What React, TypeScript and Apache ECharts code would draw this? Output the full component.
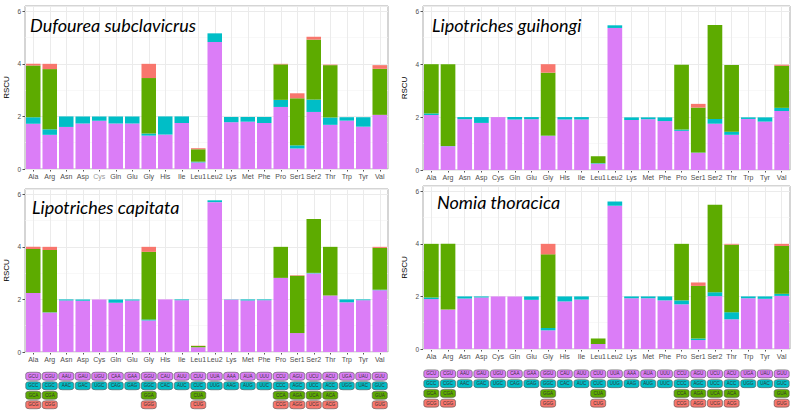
import React, { useEffect, useRef } from 'react';
import * as echarts from 'echarts';

const aminoAcids = ['Ala', 'Arg', 'Asn', 'Asp', 'Cys', 'Gln', 'Glu', 'Gly', 'His', 'Ile', 'Leu1', 'Leu2', 'Lys', 'Met', 'Phe', 'Pro', 'Ser1', 'Ser2', 'Thr', 'Trp', 'Tyr', 'Val'];

const codons = [
  ['GCU', 'GCC', 'GCA', 'GCG'], ['CGU', 'CGC', 'CGA', 'CGG'], ['AAU', 'AAC'], ['GAU', 'GAC'],
  ['UGU', 'UGC'], ['CAA', 'CAG'], ['GAA', 'GAG'], ['GGU', 'GGC', 'GGA', 'GGG'],
  ['CAU', 'CAC'], ['AUU', 'AUC'], ['CUU', 'CUC', 'CUA', 'CUG'], ['UUA', 'UUG'],
  ['AAA', 'AAG'], ['AUA', 'AUG'], ['UUU', 'UUC'], ['CCU', 'CCC', 'CCA', 'CCG'],
  ['AGU', 'AGC', 'AGA', 'AGG'], ['UCU', 'UCC', 'UCA', 'UCG'], ['ACU', 'ACC', 'ACA', 'ACG'],
  ['UGA', 'UGG'], ['UAU', 'UAC'], ['GUU', 'GUC', 'GUA', 'GUG'],
];

const speciesNames = ['Dufourea subclavicrus', 'Lipotriches guihongi', 'Lipotriches capitata', 'Nomia thoracica'];

// RSCU of codon 1..4 (stack order bottom -> top), per amino acid
const dufoureaC1 = [1.72, 1.30, 1.60, 1.73, 1.84, 1.73, 1.73, 1.27, 1.31, 1.75, 0.25, 4.83, 1.78, 1.80, 1.75, 2.36, 0.78, 2.17, 1.68, 1.84, 1.61, 2.06];
const dufoureaC2 = [0.25, 0.21, 0.40, 0.27, 0.16, 0.27, 0.27, 0.08, 0.69, 0.25, 0.03, 0.33, 0.20, 0.18, 0.23, 0.27, 0.12, 0.47, 0.28, 0.13, 0.36, 0.00];
const dufoureaC3 = [1.97, 2.29, 0, 0, 0, 0, 0, 2.11, 0, 0, 0.47, 0, 0, 0, 0, 1.35, 1.79, 2.28, 1.99, 0, 0, 1.75];
const dufoureaC4 = [0.06, 0.20, 0, 0, 0, 0, 0, 0.54, 0, 0, 0.04, 0, 0, 0, 0, 0.02, 0.19, 0.11, 0.02, 0, 0, 0.14];

const guihongiC1 = [2.08, 0.90, 1.92, 1.78, 2.00, 1.91, 1.92, 1.29, 1.91, 1.91, 0.24, 5.37, 1.89, 1.92, 1.85, 1.48, 0.65, 1.75, 1.33, 1.93, 1.83, 2.23];
const guihongiC2 = [0.06, 0.01, 0.08, 0.22, 0, 0.09, 0.08, 0.01, 0.09, 0.09, 0.02, 0.10, 0.10, 0.07, 0.14, 0.05, 0.01, 0.18, 0.12, 0.06, 0.16, 0.12];
const guihongiC3 = [1.86, 3.09, 0, 0, 0, 0, 0, 2.38, 0, 0, 0.26, 0, 0, 0, 0, 2.45, 1.70, 3.55, 2.52, 0, 0, 1.59];
const guihongiC4 = [0, 0, 0, 0, 0, 0, 0, 0.32, 0, 0, 0, 0, 0, 0, 0, 0, 0.14, 0, 0, 0, 0, 0.04];

const capitataC1 = [2.24, 1.50, 1.96, 1.95, 2.00, 1.87, 1.96, 1.20, 2.00, 1.97, 0.18, 5.70, 1.99, 1.96, 1.97, 2.82, 0.72, 2.99, 2.15, 1.89, 1.97, 2.35];
const capitataC2 = [0, 0.01, 0.04, 0.05, 0, 0.13, 0.04, 0.04, 0, 0.03, 0, 0.07, 0.01, 0.04, 0.03, 0, 0, 0.02, 0, 0.11, 0.03, 0.02];
const capitataC3 = [1.68, 2.37, 0, 0, 0, 0, 0, 2.57, 0, 0, 0.05, 0, 0, 0, 0, 1.18, 2.18, 2.05, 1.85, 0, 0, 1.59];
const capitataC4 = [0.08, 0.12, 0, 0, 0, 0, 0, 0.19, 0, 0, 0.01, 0, 0, 0, 0, 0, 0.02, 0, 0, 0, 0, 0.04];

const nomiaC1 = [1.90, 1.50, 1.92, 1.96, 2.00, 2.00, 1.87, 0.71, 1.81, 1.88, 0.19, 5.45, 1.93, 1.93, 1.85, 1.70, 0.34, 2.01, 1.13, 1.93, 1.91, 2.02];
const nomiaC2 = [0.06, 0, 0.08, 0.04, 0, 0, 0.13, 0.09, 0.19, 0.12, 0, 0.16, 0.07, 0.07, 0.15, 0.15, 0.06, 0.15, 0.27, 0.07, 0.09, 0.08];
const nomiaC3 = [2.04, 2.50, 0, 0, 0, 0, 0, 2.80, 0, 0, 0.21, 0, 0, 0, 0, 2.15, 2.00, 3.33, 2.57, 0, 0, 1.82];
const nomiaC4 = [0, 0, 0, 0, 0, 0, 0, 0.40, 0, 0, 0, 0, 0, 0, 0, 0, 0.13, 0, 0.03, 0, 0, 0.08];

const yTicks = [0, 2, 4, 6];
const rowNames = ['1', '2', '3', '4'];

const codonColors = ['#DB7DF7', '#00BEC7', '#5DAB00', '#F8766D'];

const panelData = [
  [dufoureaC1, dufoureaC2, dufoureaC3, dufoureaC4],
  [guihongiC1, guihongiC2, guihongiC3, guihongiC4],
  [capitataC1, capitataC2, capitataC3, capitataC4],
  [nomiaC1, nomiaC2, nomiaC3, nomiaC4],
];

const panelBoxes = [
  { left: 25, top: 6, width: 363, height: 163 },
  { left: 423, top: 6, width: 367, height: 164 },
  { left: 25, top: 189, width: 363, height: 163 },
  { left: 423, top: 186, width: 367, height: 163 },
];
const titlePos = [
  { left: 30, top: 15 },
  { left: 432, top: 15 },
  { left: 32, top: 197 },
  { left: 437, top: 192 },
];
const legendBoxes = [
  { left: 25, top: 371.5, width: 363, height: 38 },
  { left: 423, top: 369, width: 367, height: 39 },
];

export default function App() {
  const ref = useRef<HTMLDivElement>(null);
  useEffect(() => {
    if (!ref.current) return;
    const chart = echarts.init(ref.current, null, { renderer: 'svg' });
    const axisFont = 'Liberation Sans, Arial, sans-serif';
    const grids: any[] = [];
    const xAxes: any[] = [];
    const yAxes: any[] = [];
    const series: any[] = [];
    const titles: any[] = [];

    panelBoxes.forEach((b, p) => {
      grids.push({ ...b, show: true, backgroundColor: '#fff', borderColor: '#ABABAB', borderWidth: 1, containLabel: false });
      xAxes.push({
        type: 'category', gridIndex: p,
        data: aminoAcids.map((a) => (p === 0 && a === 'Cys' ? { value: a, textStyle: { color: '#9A9A9A' } } : a)),
        axisLine: { show: false },
        axisTick: { show: true, alignWithLabel: true, length: 2.5, lineStyle: { color: '#555' } },
        axisLabel: { interval: 0, fontSize: 7, color: '#4D4D4D', margin: 4, fontFamily: axisFont },
        splitLine: { show: true, alignWithLabel: true, lineStyle: { color: '#EBEBEB', width: 1 } },
      });
      titles.push({
        text: speciesNames[p], left: titlePos[p].left, top: titlePos[p].top, padding: 0,
        textStyle: { fontFamily: 'Lato, sans-serif', fontStyle: 'italic', fontWeight: 'normal', fontSize: 18, lineHeight: 20, color: '#000' },
      });
    });
    // main value axes 0..3
    panelBoxes.forEach((b, p) => {
      yAxes.push({
        type: 'value', gridIndex: p, position: 'left', min: 0, max: 6.2, interval: 2, z: 1,
        name: 'RSCU', nameLocation: 'middle', nameGap: 15,
        nameTextStyle: { fontSize: 8, color: '#000', fontFamily: axisFont },
        axisLine: { show: false },
        axisTick: { show: true, length: 2.5, lineStyle: { color: '#555' } },
        axisLabel: { fontSize: 6.5, color: '#4D4D4D', margin: 4, showMaxLabel: false, fontFamily: axisFont,
          formatter: (v: number) => (yTicks.includes(v) ? String(v) : '') },
        splitLine: { show: true, lineStyle: { color: '#EBEBEB', width: 1 } },
      });
    });
    // minor grid axes 4..7
    panelBoxes.forEach((b, p) => {
      yAxes.push({
        type: 'value', gridIndex: p, position: 'left', min: 0, max: 6.2, interval: 1, z: 0,
        axisLine: { show: false }, axisTick: { show: false }, axisLabel: { show: false },
        splitLine: { show: true, lineStyle: { color: '#F4F4F4', width: 0.6 } },
      });
    });
    panelData.forEach((cols, p) => {
      cols.forEach((vals, k) => {
        series.push({
          type: 'bar', xAxisIndex: p, yAxisIndex: p, stack: 'panel' + p,
          name: 'codon' + (k + 1), data: vals, barCategoryGap: '12%',
          itemStyle: { color: codonColors[k] }, z: 2,
        });
      });
    });
    // codon legends
    legendBoxes.forEach((b, l) => {
      grids.push({ ...b, show: false });
      xAxes.push({ type: 'category', gridIndex: 4 + l, data: aminoAcids, show: false });
      yAxes.push({ type: 'category', gridIndex: 4 + l, data: rowNames, inverse: true, show: false });
      const data: any[] = [];
      codons.forEach((list, i) => {
        list.forEach((c, j) => {
          data.push({ value: [i, j, c], itemStyle: { color: codonColors[j] } });
        });
      });
      series.push({
        type: 'scatter', xAxisIndex: 4 + l, yAxisIndex: 8 + l, data,
        symbol: 'roundRect', symbolSize: [15, 8],
        itemStyle: { borderColor: '#5A5A5A', borderWidth: 0.6, opacity: 1 },
        label: { show: true, position: 'inside', formatter: (q: any) => q.value[2], fontSize: 4.5, color: '#333', fontFamily: axisFont },
      });
    });

    chart.setOption({
      animation: false,
      backgroundColor: '#fff',
      title: titles,
      grid: grids,
      xAxis: xAxes,
      yAxis: yAxes,
      series,
    });
    return () => chart.dispose();
  }, []);
  return <div ref={ref} style={{ position: 'fixed', left: 0, top: 0, width: 793, height: 414 }} />;
}
